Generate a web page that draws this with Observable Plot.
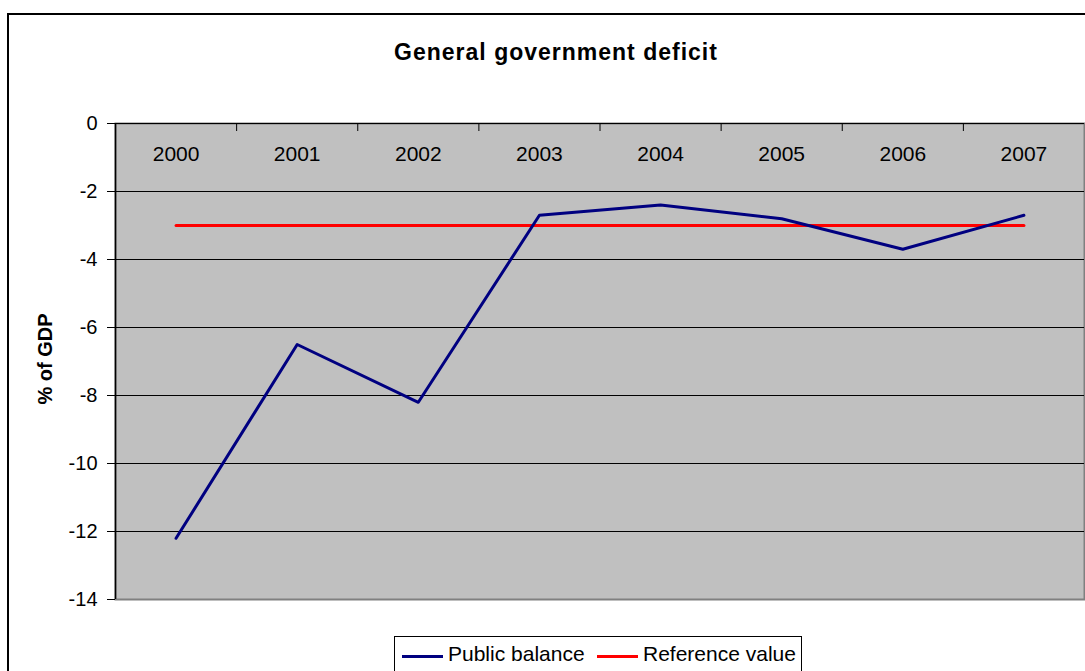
<!DOCTYPE html>
<html>
<head>
<meta charset="utf-8">
<script src="https://cdn.jsdelivr.net/npm/d3@7"></script>
<script src="https://cdn.jsdelivr.net/npm/@observablehq/plot@0.6"></script>
<style>
  html, body { margin: 0; padding: 0; background: #fff; overflow: hidden; }
  #wrap { position: relative; width: 1085px; height: 671px; overflow: hidden; font-family: "Liberation Sans", Arial, sans-serif; color: #000; }
  #outer { position: absolute; left: 7px; top: 13px; width: 1200px; height: 800px; border: 2px solid #000; box-sizing: border-box; }
  #title { position: absolute; left: 0; width: 1112px; top: 41px; text-align: center; font-size: 23px; line-height: 1; font-weight: bold; letter-spacing: 1px; white-space: nowrap; }
  #ylabel { position: absolute; left: 45px; top: 359px; transform: translate(-50%, -50%) rotate(-90deg); font-size: 20px; font-weight: bold; line-height: 1; white-space: nowrap; }
  #chart { position: absolute; left: 0; top: 100px; }
  #legend { position: absolute; left: 394px; top: 636px; width: 408px; height: 60px; border: 1px solid #000; box-sizing: border-box; background: #fff; }
  .sw { position: absolute; height: 3px; width: 41px; }
  .lt { position: absolute; font-size: 21px; line-height: 1; white-space: nowrap; }
</style>
</head>
<body>
<div id="wrap">
  <div id="outer"></div>
  <div id="title">General government deficit</div>
  <div id="chart"></div>
  <div id="ylabel">% of GDP</div>
  <div id="legend"></div>
</div>
<script>
// Data
const years = [2000, 2001, 2002, 2003, 2004, 2005, 2006, 2007];
const publicBalance = [-12.2, -6.5, -8.2, -2.7, -2.4, -2.8, -3.7, -2.7];
const referenceValue = [-3, -3, -3, -3, -3, -3, -3, -3];
const yTicks = [0, -2, -4, -6, -8, -10, -12, -14];
const seriesNames = ["Public balance", "Reference value"];
const seriesColors = ["#000080", "#ff0000"];

const balanceRows = years.map((y, i) => ({year: y, value: publicBalance[i]}));
const refRows = years.map((y, i) => ({year: y, value: referenceValue[i]}));
const boundaries = years.slice(1).map(y => y - 0.5);

const chart = Plot.plot({
  width: 1085,
  height: 520,
  marginLeft: 115,
  marginRight: 1,
  marginTop: 23,
  marginBottom: 21,
  style: {background: "transparent", fontSize: "20px", fontFamily: "'Liberation Sans', Arial, sans-serif", color: "#000", overflow: "visible"},
  x: {domain: [years[0] - 0.5, years[years.length - 1] + 0.5], axis: null},
  y: {domain: [-14, 0], axis: null},
  marks: [
    Plot.frame({fill: "#c0c0c0", stroke: "#808080", strokeWidth: 2}),
    Plot.ruleY(yTicks.filter(t => t > -14), {stroke: "#000", strokeWidth: 1}),
    Plot.ruleX(boundaries, {y2: 0, insetBottom: -8, stroke: "#000", strokeWidth: 1}),
    Plot.ruleX([years[0] - 0.5], {stroke: "#000", strokeWidth: 1.5}),
    Plot.axisY(yTicks, {tickSize: 8, tickPadding: 10, tickFormat: d => String(d), label: null, fontSize: 20, stroke: "#000"}),
    Plot.text(years, {x: d => d, y: 0, dy: 31, text: d => String(d), fontSize: 21, fill: "#000"}),
    Plot.line(refRows, {x: "year", y: "value", stroke: seriesColors[1], strokeWidth: 3}),
    Plot.line(balanceRows, {x: "year", y: "value", stroke: seriesColors[0], strokeWidth: 3})
  ]
});
document.getElementById("chart").appendChild(chart);

// Legend
const legend = document.getElementById("legend");
const legendPos = [{sw: 7, tx: 53}, {sw: 202, tx: 248}];
seriesNames.forEach((name, i) => {
  const s = document.createElement("div");
  s.className = "sw";
  s.style.left = legendPos[i].sw + "px";
  s.style.top = "17.5px";
  s.style.background = seriesColors[i];
  legend.appendChild(s);
  const t = document.createElement("div");
  t.className = "lt";
  t.style.left = legendPos[i].tx + "px";
  t.style.top = "5.5px";
  t.textContent = name;
  legend.appendChild(t);
});
</script>
</body>
</html>
